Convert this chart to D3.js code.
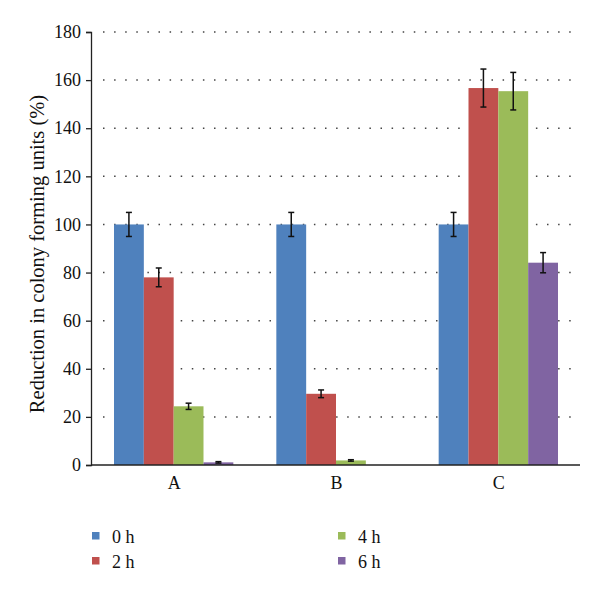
<!DOCTYPE html>
<html><head><meta charset="utf-8">
<script src="https://cdn.jsdelivr.net/npm/d3@7"></script>
<style>body{margin:0;background:#fff}svg{display:block}</style>
</head><body>
<svg id="c" width="600" height="594"></svg>
<script>
const categories = ["A", "B", "C"];
const seriesNames = ["0 h", "2 h", "4 h", "6 h"];
const values0h = [100, 100, 100];
const values2h = [78, 29.6, 156.7];
const values4h = [24.4, 1.9, 155.4];
const values6h = [1.1, 0, 84.1];
const err0h = [5, 5, 5];
const err2h = [3.9, 1.6, 7.9];
const err4h = [1.3, 0.3, 7.8];
const err6h = [0.3, 0, 4.2];
const yTicks = [0, 20, 40, 60, 80, 100, 120, 140, 160, 180];
const colors = ["#4F81BD", "#C0504D", "#9BBB59", "#8064A2"];

const allVals = [values0h, values2h, values4h, values6h];
const allErr = [err0h, err2h, err4h, err6h];

const svg = d3.select("#c");
const font = "'Liberation Serif', 'DejaVu Serif', serif";
const pLeft = 91, pRight = 580, pTop = 32, pBottom = 465;

const y = d3.scaleLinear().domain([0, 180]).range([pBottom, pTop]);
const x0 = d3.scaleBand().domain(categories).range([pLeft + 2, pRight]).padding(0);
const x1 = d3.scaleBand().domain(seriesNames).range([21, x0.bandwidth() - 22]).padding(0);

// gridlines
svg.append("g").selectAll("line").data(yTicks.filter(t => t > 0)).join("line")
  .attr("x1", pLeft + 12).attr("x2", pRight)
  .attr("y1", d => y(d)).attr("y2", d => y(d))
  .attr("stroke", "#444").attr("stroke-width", 1.5)
  .attr("stroke-dasharray", "1.5,9.6");

// bars
const groups = svg.append("g").selectAll("g").data(categories).join("g")
  .attr("transform", d => `translate(${x0(d)},0)`);
groups.each(function(cat, ci) {
  const g = d3.select(this);
  seriesNames.forEach((s, si) => {
    const v = allVals[si][ci];
    if (v > 0) {
      g.append("rect")
        .attr("x", x1(s)).attr("width", x1.bandwidth())
        .attr("y", y(v)).attr("height", y(0) - y(v))
        .attr("fill", colors[si]);
    }
  });
  seriesNames.forEach((s, si) => {
    const v = allVals[si][ci], e = allErr[si][ci];
    if (v > 0 && e > 0) {
      const cx = x1(s) + x1.bandwidth() / 2;
      const eb = g.append("g").attr("stroke", "#111").attr("stroke-width", 1.5);
      eb.append("line").attr("x1", cx).attr("x2", cx).attr("y1", y(v + e)).attr("y2", y(v - e));
      eb.append("line").attr("x1", cx - 3).attr("x2", cx + 3).attr("y1", y(v + e)).attr("y2", y(v + e));
      eb.append("line").attr("x1", cx - 3).attr("x2", cx + 3).attr("y1", y(v - e)).attr("y2", y(v - e));
    }
  });
});

// y axis
const yAxis = svg.append("g").attr("transform", `translate(${pLeft},0)`)
  .call(d3.axisLeft(y).tickValues(yTicks).tickSize(5).tickPadding(5));
yAxis.select(".domain").attr("stroke", "#222").attr("stroke-width", 1.3);
yAxis.selectAll(".tick line").attr("stroke", "#222").attr("stroke-width", 1.3);
yAxis.selectAll("text").attr("font-family", font).attr("font-size", 18).attr("fill", "#111");

// x axis
const xAxis = svg.append("g").attr("transform", `translate(0,${pBottom})`)
  .call(d3.axisBottom(x0).tickSize(0).tickPadding(11));
xAxis.select(".domain").attr("stroke", "#222").attr("stroke-width", 1.5)
  .attr("d", `M${pLeft},0H${pRight}`);
xAxis.selectAll("text").attr("font-family", font).attr("font-size", 18).attr("fill", "#111");

// y label
svg.append("text").attr("transform", `translate(44,${254}) rotate(-90)`)
  .attr("text-anchor", "middle").attr("font-family", font).attr("font-size", 20.5).attr("fill", "#111")
  .text("Reduction in colony forming units (%)");

// legend
const legPos = [[92, 536], [92, 561], [338, 536], [338, 561]];
const leg = svg.append("g").selectAll("g").data(seriesNames).join("g")
  .attr("transform", (d, i) => `translate(${legPos[i][0]},${legPos[i][1]})`);
leg.append("rect").attr("x", 0).attr("y", -4).attr("width", 7.5).attr("height", 7.5)
  .attr("fill", (d, i) => colors[i]);
leg.append("text").attr("x", 20).attr("y", 7).attr("font-family", font).attr("font-size", 18)
  .attr("fill", "#111").text(d => d);
</script>
</body></html>
